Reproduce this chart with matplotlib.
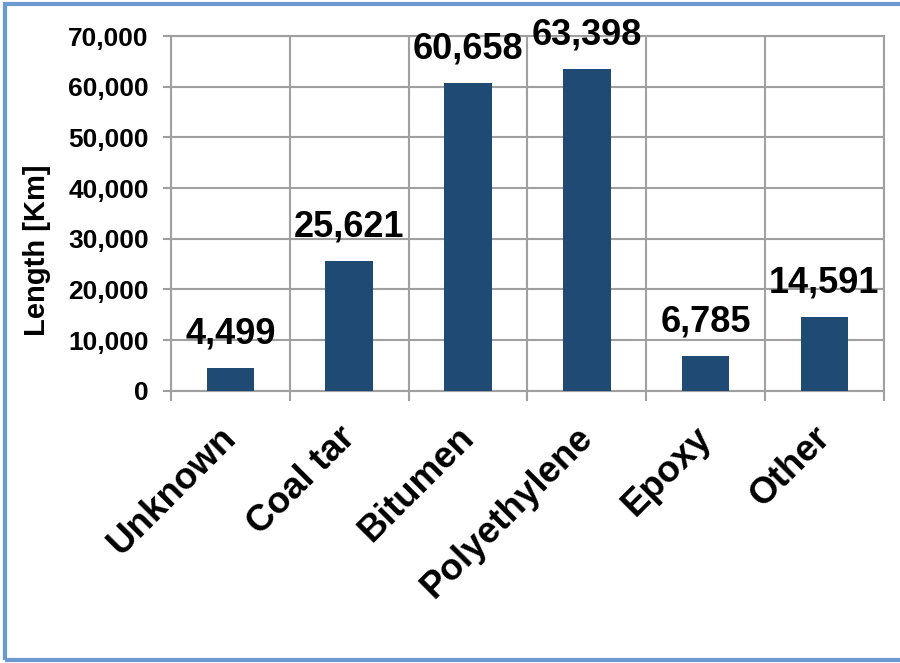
import matplotlib
matplotlib.use("Agg")
import matplotlib.pyplot as plt
from matplotlib.patches import Rectangle
from matplotlib.ticker import FuncFormatter, FixedLocator
from matplotlib.transforms import ScaledTranslation

categories = ["Unknown", "Coal tar", "Bitumen", "Polyethylene", "Epoxy", "Other"]
lengths_km = [4499, 25621, 60658, 63398, 6785, 14591]
y_ticks = [0, 10000, 20000, 30000, 40000, 50000, 60000, 70000]

plt.rcParams['font.family'] = ['Liberation Sans', 'DejaVu Sans']

fig = plt.figure(figsize=(9.0, 6.63), dpi=100)
ax = fig.add_axes([0.19, 0.4107, 0.792, 0.535])

bar_color = "#1F4A73"
grid_color = "#A0A0A0"

x = list(range(len(categories)))
bars = ax.bar(x, lengths_km, width=0.4, color=bar_color, zorder=3)

for xi, v in zip(x, lengths_km):
    ax.annotate(f"{v:,}", xy=(xi, v), xytext=(0, 12), textcoords="offset points",
                ha="center", va="bottom", fontsize=26, fontweight="bold", zorder=4)

ax.set_xlim(-0.5, len(categories) - 0.5)
ax.set_ylim(0, 70000)
ax.set_yticks(y_ticks)
ax.yaxis.set_major_formatter(FuncFormatter(lambda v, p: f"{int(v):,}"))
ax.tick_params(axis="y", labelsize=19, length=6, width=1.5, color=grid_color, pad=10)
for lab in ax.get_yticklabels():
    lab.set_fontweight("bold")

ax.set_xticks(x)
ax.set_xticklabels(categories, rotation=45, ha="right", rotation_mode="anchor",
                   fontsize=26.5, fontweight="bold")
ax.tick_params(axis="x", which="major", length=0, pad=21)
shift = ScaledTranslation(-12 / 100, 0, fig.dpi_scale_trans)
for lab in ax.get_xticklabels():
    lab.set_transform(lab.get_transform() + shift)
ax.xaxis.set_minor_locator(FixedLocator([i - 0.5 for i in range(len(categories) + 1)]))
ax.tick_params(axis="x", which="minor", length=7, width=1.5, color=grid_color)

ax.grid(axis="y", which="major", color=grid_color, linewidth=1.5, zorder=0)
ax.grid(axis="x", which="minor", color=grid_color, linewidth=1.5, zorder=0)
ax.set_axisbelow(True)
for s in ax.spines.values():
    s.set_color(grid_color)
    s.set_linewidth(1.5)

ax.set_ylabel("Length [Km]", fontsize=21, fontweight="bold")
ax.yaxis.set_label_coords(-0.168, 0.397)

# outer chart frame
fig.patches.append(Rectangle((5 / 900, 3 / 663), 1.0, 656 / 663, transform=fig.transFigure,
                             fill=False, edgecolor="#6A9AD0", linewidth=3.0, zorder=10))

fig.savefig("out.png", dpi=100)
